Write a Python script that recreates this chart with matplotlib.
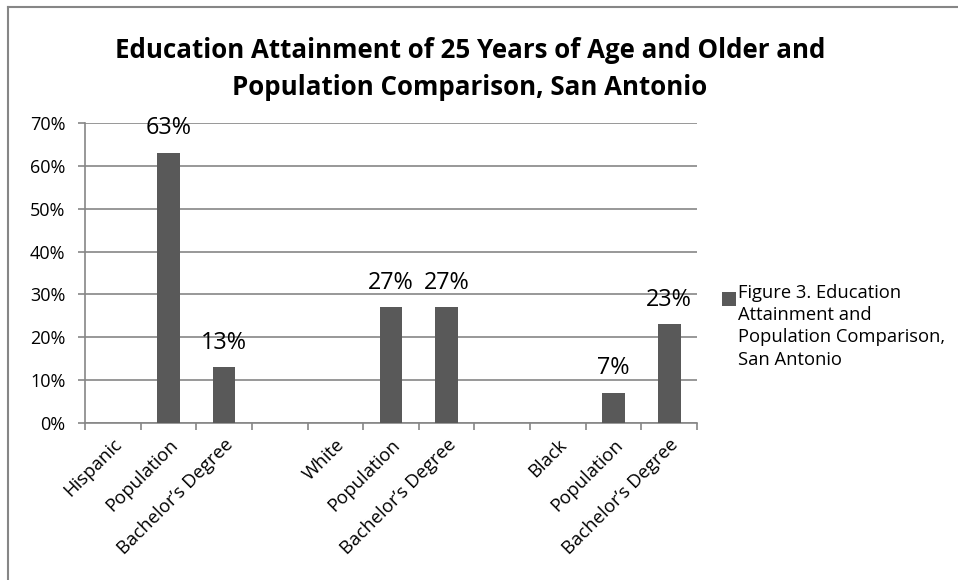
import matplotlib
matplotlib.use("Agg")
import matplotlib.pyplot as plt
from matplotlib.lines import Line2D
from matplotlib.patches import Rectangle
from matplotlib.ticker import PercentFormatter, FixedLocator
from matplotlib.transforms import ScaledTranslation

categories = ["Hispanic", "Population", "Bachelor\u2019s Degree", "",
              "White", "Population", "Bachelor\u2019s Degree", "",
              "Black", "Population", "Bachelor\u2019s Degree"]
values = [None, 0.63, 0.13, None, None, 0.27, 0.27, None, None, 0.07, 0.23]
series_name = "Figure 3. Education\nAttainment and\nPopulation Comparison,\nSan Antonio"
title = "Education Attainment of 25 Years of Age and Older and\nPopulation Comparison, San Antonio"
y_ticks = [0, 0.1, 0.2, 0.3, 0.4, 0.5, 0.6, 0.7]

FONT = ["Open Sans", "DejaVu Sans"]
plt.rcParams["font.family"] = FONT

W, H = 958, 580
fig = plt.figure(figsize=(W / 100, H / 100), dpi=100)
ax = fig.add_axes([85 / W, 1 - 423 / H, 612 / W, 300 / H])

bar_color = "#595959"
grid_color = "#868686"

xs = list(range(len(categories)))
bx = [x for x, v in zip(xs, values) if v is not None]
bv = [v for v in values if v is not None]
bars = ax.bar(bx, bv, width=0.41, color=bar_color, zorder=3)
for x, v in zip(bx, bv):
    ax.annotate(f"{round(v * 100)}%", (x, v), xytext=(0, 13.5), textcoords="offset points",
                ha="center", va="baseline", fontsize=16.8, color="black", zorder=4)

ax.set_xlim(-0.5, len(categories) - 0.5)
ax.set_ylim(0, 0.7)
ax.yaxis.set_major_locator(FixedLocator(y_ticks))
ax.yaxis.set_major_formatter(PercentFormatter(1.0, decimals=0))
ax.yaxis.grid(True, color=grid_color, linewidth=1.2, zorder=0)
ax.set_axisbelow(True)

ax.set_xticks([x + 0.5 for x in range(-1, len(categories))])
ax.set_xticklabels([])
ax.set_xticks(xs, minor=True)
ax.set_xticklabels(categories, minor=True, rotation=45, ha="right", rotation_mode="anchor",
                   fontsize=13.3)
shift = ScaledTranslation(-4 / 100, -2 / 100, fig.dpi_scale_trans)
for lab in ax.get_xticklabels(minor=True):
    lab.set_transform(lab.get_transform() + shift)
ax.tick_params(axis="x", which="minor", length=0, pad=9)
ax.tick_params(axis="x", which="major", length=5, width=1.2, color=grid_color, direction="out")
ax.tick_params(axis="y", length=5, width=1.2, color=grid_color, labelsize=13, pad=9)

for s in ["top", "right"]:
    ax.spines[s].set_visible(False)
for s in ["left", "bottom"]:
    ax.spines[s].set_color(grid_color)
    ax.spines[s].set_linewidth(1.2)

fig.text(470 / W, 1 - 69 / H, title, ha="center", va="center", fontsize=18.6,
         fontweight="bold", linespacing=1.5)

# legend
fig.patches.append(Rectangle((722 / W, 1 - 306 / H), 14 / W, 14 / H, transform=fig.transFigure,
                             facecolor=bar_color, edgecolor="none"))
fig.text(738 / W, 1 - 284 / H, series_name, ha="left", va="top", fontsize=13.2, linespacing=1.3)

# outer chart border (cropped)
fig.add_artist(Line2D([8 / W, 8 / W], [0, 1 - 7 / H], transform=fig.transFigure, color=grid_color, lw=1.5))
fig.add_artist(Line2D([8 / W, 1], [1 - 7 / H, 1 - 7 / H], transform=fig.transFigure, color=grid_color, lw=1.5))

fig.savefig("out.png", dpi=100)
